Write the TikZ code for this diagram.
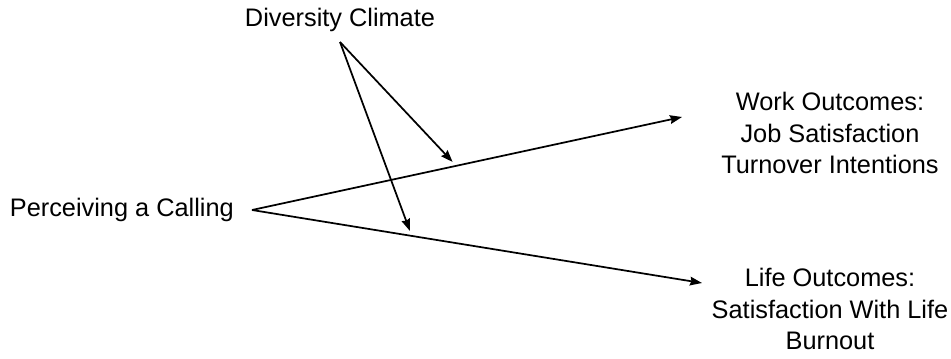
\documentclass[tikz,border=0pt]{standalone}
\usepackage{fontspec}
\setmainfont{Liberation Sans}
\usetikzlibrary{arrows.meta,positioning}

\begin{document}
\begin{tikzpicture}[->,>={Stealth[length=9pt,width=6.5pt,inset=1pt]},x=0.75pt,y=-0.75pt,line width=1.3pt,
                    label node/.style={align=center,font=\fontsize{19}{23.5}\selectfont,inner sep=0pt}]
  \useasboundingbox (0,0) rectangle (951,358);

  \node[label node] (climate) at (340,20) {Diversity Climate};
  \node[label node,anchor=west] (calling) at (9,210) {Perceiving a Calling};
  \node[label node] (work) at (830,133) {Work Outcomes:\\Job Satisfaction\\Turnover Intentions};
  \node[label node] (life) at (830,309) {Life Outcomes:\\Satisfaction With Life\\Burnout};

  \coordinate (src) at (252,210);
  \coordinate (top) at (340,42);
  \coordinate (workin) at (682,117);
  \coordinate (lifein) at (702,283);

  \draw (src) -- coordinate[pos=0.475] (m1) (workin);
  \draw (src) -- coordinate[pos=0.355] (m2) (lifein);
  \draw[shorten >=4pt] (top) -- (m1);
  \draw[shorten >=4pt] (top) -- (m2);
\end{tikzpicture}
\end{document}
